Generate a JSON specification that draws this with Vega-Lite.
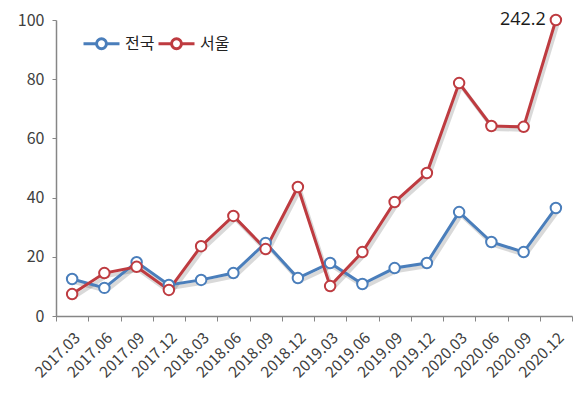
{
  "$schema": "https://vega.github.io/schema/vega-lite/v6.json",
  "width": 516,
  "height": 296,
  "autosize": {"type": "none"},
  "padding": {"left": 56, "top": 20, "right": 8, "bottom": 78},
  "background": "white",
  "config": {
    "view": {"stroke": null},
    "font": "Noto Sans CJK KR"
  },
  "data": {
    "values": [
      {"period": "2017.03", "series": "전국", "value": 12.5},
      {"period": "2017.06", "series": "전국", "value": 9.5},
      {"period": "2017.09", "series": "전국", "value": 18.2},
      {"period": "2017.12", "series": "전국", "value": 10.5},
      {"period": "2018.03", "series": "전국", "value": 12.2},
      {"period": "2018.06", "series": "전국", "value": 14.5},
      {"period": "2018.09", "series": "전국", "value": 24.7},
      {"period": "2018.12", "series": "전국", "value": 12.8},
      {"period": "2019.03", "series": "전국", "value": 17.9},
      {"period": "2019.06", "series": "전국", "value": 10.8},
      {"period": "2019.09", "series": "전국", "value": 16.2},
      {"period": "2019.12", "series": "전국", "value": 17.9},
      {"period": "2020.03", "series": "전국", "value": 35.1},
      {"period": "2020.06", "series": "전국", "value": 25.0},
      {"period": "2020.09", "series": "전국", "value": 21.6},
      {"period": "2020.12", "series": "전국", "value": 36.5},
      {"period": "2017.03", "series": "서울", "value": 7.4},
      {"period": "2017.06", "series": "서울", "value": 14.5},
      {"period": "2017.09", "series": "서울", "value": 16.6},
      {"period": "2017.12", "series": "서울", "value": 8.8},
      {"period": "2018.03", "series": "서울", "value": 23.6},
      {"period": "2018.06", "series": "서울", "value": 33.8},
      {"period": "2018.09", "series": "서울", "value": 22.6},
      {"period": "2018.12", "series": "서울", "value": 43.6},
      {"period": "2019.03", "series": "서울", "value": 10.1},
      {"period": "2019.06", "series": "서울", "value": 21.6},
      {"period": "2019.09", "series": "서울", "value": 38.5},
      {"period": "2019.12", "series": "서울", "value": 48.3},
      {"period": "2020.03", "series": "서울", "value": 78.7},
      {"period": "2020.06", "series": "서울", "value": 64.2},
      {"period": "2020.09", "series": "서울", "value": 63.9},
      {"period": "2020.12", "series": "서울", "value": 242.2}
    ]
  },
  "encoding": {
    "x": {
      "field": "period",
      "type": "ordinal",
      "sort": null,
      "scale": {"type": "band", "paddingInner": 0, "paddingOuter": 0},
      "axis": {
        "title": null,
        "labelAngle": -45,
        "labelFontSize": 15.5,
        "labelColor": "#404040",
        "tickBand": "extent",
        "tickSize": 5,
        "domainColor": "#868686",
        "tickColor": "#868686",
        "domainWidth": 1.5,
        "labelPadding": 9
      }
    },
    "y": {
      "field": "value",
      "type": "quantitative",
      "scale": {"domain": [0, 100], "clamp": true, "nice": false},
      "axis": {
        "title": null,
        "values": [0, 20, 40, 60, 80, 100],
        "grid": false,
        "domainColor": "#868686",
        "tickColor": "#868686",
        "domainWidth": 1.5,
        "tickSize": 4,
        "labelFontSize": 16,
        "labelColor": "#404040",
        "labelPadding": 8
      }
    }
  },
  "layer": [
    {
      "mark": {"type": "line", "stroke": "#000000", "strokeWidth": 4, "opacity": 0.15, "xOffset": 2, "yOffset": 3},
      "encoding": {"detail": {"field": "series"}}
    },
    {
      "mark": {"type": "line", "strokeWidth": 3},
      "encoding": {
        "color": {
          "field": "series",
          "type": "nominal",
          "scale": {"domain": ["전국", "서울"], "range": ["#4a7ebb", "#be3b40"]},
          "legend": {
            "title": null,
            "orient": "none",
            "legendX": 35,
            "legendY": 13,
            "direction": "horizontal",
            "symbolType": "M-2,0H-0.55M0.55,0H2M-0.55,0A0.55,0.55 0 1,1 0.55,0A0.55,0.55 0 1,1 -0.55,0Z",
            "symbolSize": 324,
            "symbolStrokeWidth": 3,
            "symbolFillColor": "white",
            "labelFontSize": 16,
            "labelColor": "#222222",
            "labelOffset": 13,
            "columnPadding": -3
          }
        }
      }
    },
    {
      "mark": {"type": "point", "shape": "circle", "filled": true, "fill": "white", "size": 110, "strokeWidth": 2, "opacity": 1},
      "encoding": {
        "stroke": {
          "field": "series",
          "type": "nominal",
          "scale": {"domain": ["전국", "서울"], "range": ["#4a7ebb", "#be3b40"]},
          "legend": null
        }
      }
    },
    {
      "transform": [{"filter": "datum.series === '서울' && datum.period === '2020.12'"}],
      "mark": {"type": "text", "align": "right", "baseline": "middle", "dx": -10, "fontSize": 18, "fontWeight": "normal", "font": "Open Sans", "color": "#1a1a1a"},
      "encoding": {"text": {"field": "value", "type": "quantitative", "format": ".1f"}}
    }
  ]
}
